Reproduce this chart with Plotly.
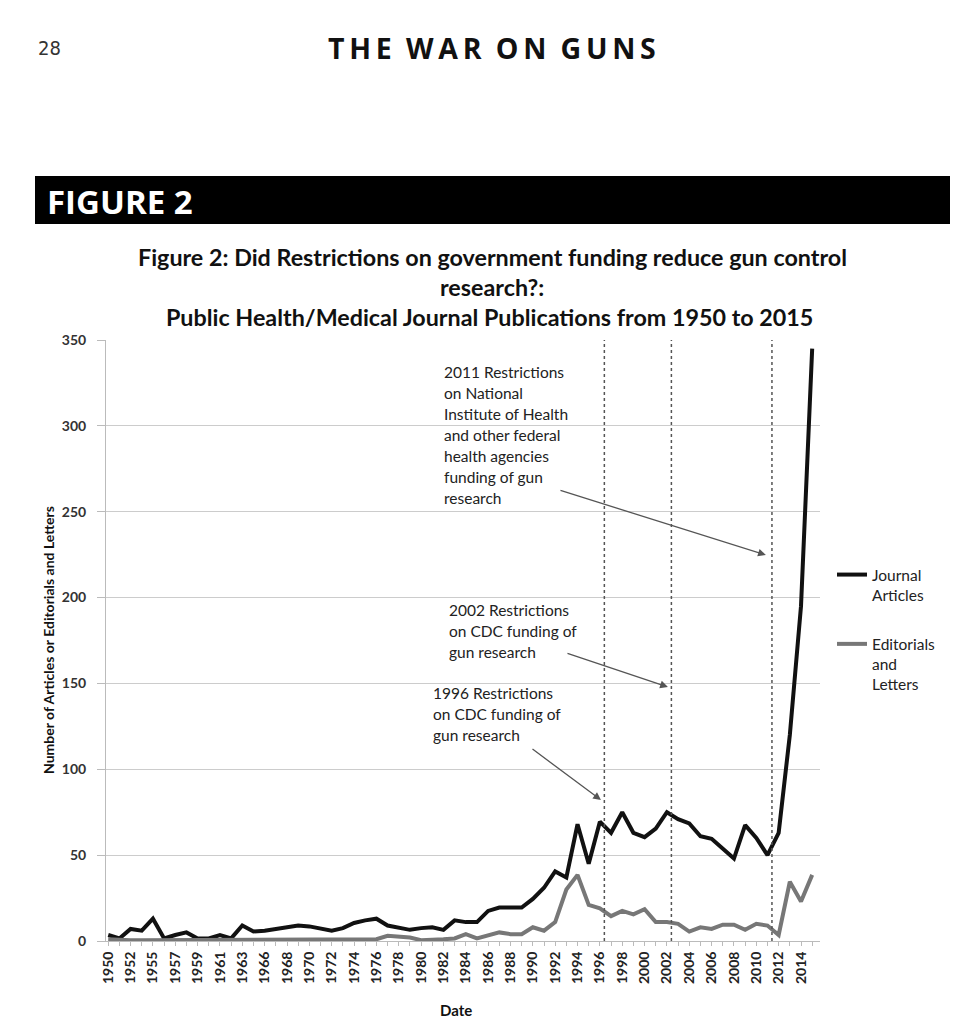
import plotly.graph_objects as go

# ---------------- data ----------------
years = [1950, 1951, 1952, 1953,
         1955, 1956, 1957, 1958, 1959, 1960, 1961, 1962, 1963, 1964,
         1966, 1967, 1968, 1969, 1970, 1971, 1972, 1973, 1974, 1975,
         1976, 1977, 1978, 1979, 1980, 1981, 1982, 1983, 1984, 1985,
         1986, 1987, 1988, 1989, 1990, 1991, 1992, 1993, 1994, 1995,
         1996, 1997, 1998, 1999, 2000, 2001, 2002, 2003, 2004, 2005,
         2006, 2007, 2008, 2009, 2010, 2011, 2012, 2013, 2014, 2015]

journal_articles = [3.5, 1.5, 7, 6,
                    13, 1.5, 3.5, 5, 1.5, 1.5, 3.5, 1.5, 9, 5.5,
                    6, 7, 7.5, 9, 8.5, 7.5, 6, 7.5, 10.5, 12,
                    13, 9, 7.5, 6.5, 7.5, 8, 6.5, 12, 11, 11,
                    17.5, 19.5, 19.5, 19.5, 24.5, 31, 40.5, 37, 68, 45,
                    69.5, 63, 75, 63, 60.5, 65.5, 75, 71, 68.5, 61,
                    59.5, 54, 48, 67.5, 60, 50, 63, 120, 195, 345]

editorials_letters = [1, 0.5, 0.5, 0.5,
                      0.5, 0.5, 1, 1, 0.5, 0.5, 0.5, 0.5, 0.5, 0.5,
                      0.5, 0.5, 0.5, 0.5, 0.5, 0.5, 0.5, 0.5, 0.5, 1,
                      1, 3, 2.5, 2, 0.5, 0.5, 1, 1.5, 4, 1.5,
                      3, 5, 4, 4, 8, 6, 11, 30, 38.5, 21,
                      19, 14.5, 17.5, 15.5, 18.5, 11, 11, 10, 5.5, 8,
                      7, 9.5, 9.5, 6.5, 10, 9, 3.5, 34.5, 23, 38.5]

y_ticks = [0, 50, 100, 150, 200, 250, 300, 350]
event_years = [1996, 2002, 2011]

ann_2011 = ["2011 Restrictions", "on National", "Institute of Health", "and other federal",
            "health agencies", "funding of gun", "research"]
ann_2002 = ["2002 Restrictions", "on CDC funding of", "gun research"]
ann_1996 = ["1996 Restrictions", "on CDC funding of", "gun research"]

title_lines = ["Figure 2: Did Restrictions on government funding reduce gun control",
               "research?:",
               "Public Health/Medical Journal Publications from 1950 to 2015"]

# ---------------- layout helpers (screen pixels -> figure coords) ----------------
OFF = 8  # page body margin
W, H = 968, 1024
SL, SR, ST, SB = 106, 820, 340, 941  # plot area in screen pixels
L, R, T, B = SL - OFF, SR - OFF, ST - OFF, SB - OFF


def px(x):
    return (x - SL) / (SR - SL)


def py(y):
    return (SB - y) / (SB - ST)


idx = list(range(len(years)))
FONT = "Lato"

fig = go.Figure()
fig.add_trace(go.Scatter(x=idx, y=journal_articles, mode="lines",
                         name="Journal<br>Articles", legendgroup="a",
                         line=dict(color="#111111", width=4)))
fig.add_trace(go.Scatter(x=idx, y=editorials_letters, mode="lines",
                         name="Editorials<br>and<br>Letters", legendgroup="b",
                         line=dict(color="#777777", width=4)))

# vertical dotted event lines
for ey in event_years:
    xi = years.index(ey) + 0.4
    fig.add_shape(type="line", xref="x", yref="paper", x0=xi, x1=xi, y0=0, y1=1,
                  line=dict(color="#555555", width=1.5, dash="dot"))

annotations = []

# page header
annotations.append(dict(text="28", xref="paper", yref="paper", x=px(36), y=py(48),
                        xanchor="left", yanchor="middle", showarrow=False,
                        font=dict(family="DejaVu Sans Condensed, Liberation Sans Narrow, DejaVu Sans",
                                  size=20, color="#333333")))
annotations.append(dict(text="\u2009".join("THE WAR ON GUNS").replace("\u2009 \u2009", "\u2002"),
                        xref="paper", yref="paper", x=px(492), y=py(48),
                        xanchor="center", yanchor="middle", showarrow=False,
                        font=dict(family="Open Sans", size=28.5, color="#111111", weight="bold")))
fig.add_shape(type="rect", xref="paper", yref="paper", x0=px(35), x1=px(950),
              y0=py(224), y1=py(176), fillcolor="#000000", line=dict(width=0))
annotations.append(dict(text="FIGURE 2", xref="paper", yref="paper", x=px(45), y=py(201),
                        xanchor="left", yanchor="middle", showarrow=False,
                        font=dict(family="Open Sans", size=33, color="#ffffff", weight="bold")))

# chart title
for i, (t, cx) in enumerate(zip(title_lines, [492, 492, 489])):
    annotations.append(dict(text=t, xref="paper", yref="paper", x=px(cx), y=py(257 + 30 * i),
                            xanchor="center", yanchor="middle", showarrow=False,
                            font=dict(family=FONT, size=23.3, color="#111111", weight="bold")))

# axis titles
annotations.append(dict(text="Number of Articles or Editorials and Letters", xref="paper", yref="paper",
                        x=px(48), y=py(640), textangle=-90, showarrow=False,
                        xanchor="center", yanchor="middle",
                        font=dict(family=FONT, size=14, color="#111111", weight="bold")))
annotations.append(dict(text="Date", xref="paper", yref="paper", x=px(456), y=py(1010),
                        showarrow=False, xanchor="center", yanchor="middle",
                        font=dict(family=FONT, size=15, color="#111111", weight="bold")))


def idx_of(pxx):
    return (pxx - 107) / 11.18


def val_of(pyy):
    return (SB - pyy) / 1.717


def text_block(lines, left, first_center):
    for k, t in enumerate(lines):
        annotations.append(dict(text=t, xref="paper", yref="paper", x=px(left),
                                y=py(first_center + 21 * k), xanchor="left", yanchor="middle",
                                showarrow=False,
                                font=dict(family=FONT, size=15.5, color="#222222")))


def arrow(tail, head):
    annotations.append(dict(text="", x=idx_of(head[0]), y=val_of(head[1]), xref="x", yref="y",
                            ax=idx_of(tail[0]), ay=val_of(tail[1]), axref="x", ayref="y",
                            showarrow=True, arrowhead=2, arrowsize=1.2, arrowwidth=1.3,
                            arrowcolor="#555555"))


text_block(ann_2011, 442, 372)
arrow((558, 490), (765, 555))
text_block(ann_2002, 447, 610)
arrow((565, 653), (667, 687))
text_block(ann_1996, 431, 693)
arrow((530, 748), (600, 800))

fig.update_layout(
    width=W, height=H,
    margin=dict(l=L, r=W - R, t=T, b=H - B, pad=0),
    paper_bgcolor="white", plot_bgcolor="white",
    font=dict(family=FONT, color="#222222"),
    annotations=annotations,
    showlegend=True,
    legend=dict(x=px(832), y=py(558), xanchor="left", yanchor="top",
                traceorder="grouped", tracegroupgap=26, valign="top",
                itemwidth=30, font=dict(family=FONT, size=15.5, color="#222222"),
                bgcolor="rgba(0,0,0,0)"),
    xaxis=dict(range=[-0.2, 63.7], tickmode="array", tickvals=idx[::2],
               ticktext=[str(y) for y in years[::2]], tickangle=-90,
               tickfont=dict(family=FONT, size=14, color="#222222", weight="bold"),
               showgrid=False, zeroline=False, showline=True, linecolor="#bbbbbb", linewidth=1,
               ticks="outside", ticklen=4, tickcolor="#bbbbbb",
               minor=dict(ticks="outside", ticklen=4, tickcolor="#bbbbbb", dtick=1, tick0=0)),
    yaxis=dict(range=[0, 350], tickmode="array", tickvals=y_ticks,
               tickfont=dict(family=FONT, size=14, color="#333333", weight="bold"),
               showgrid=True, gridcolor="#cccccc", gridwidth=1, zeroline=False,
               showline=True, linecolor="#bbbbbb", linewidth=1,
               ticks="outside", ticklen=8, tickcolor="#bbbbbb", ticklabelstandoff=8),
)

fig.write_html("out.html")
